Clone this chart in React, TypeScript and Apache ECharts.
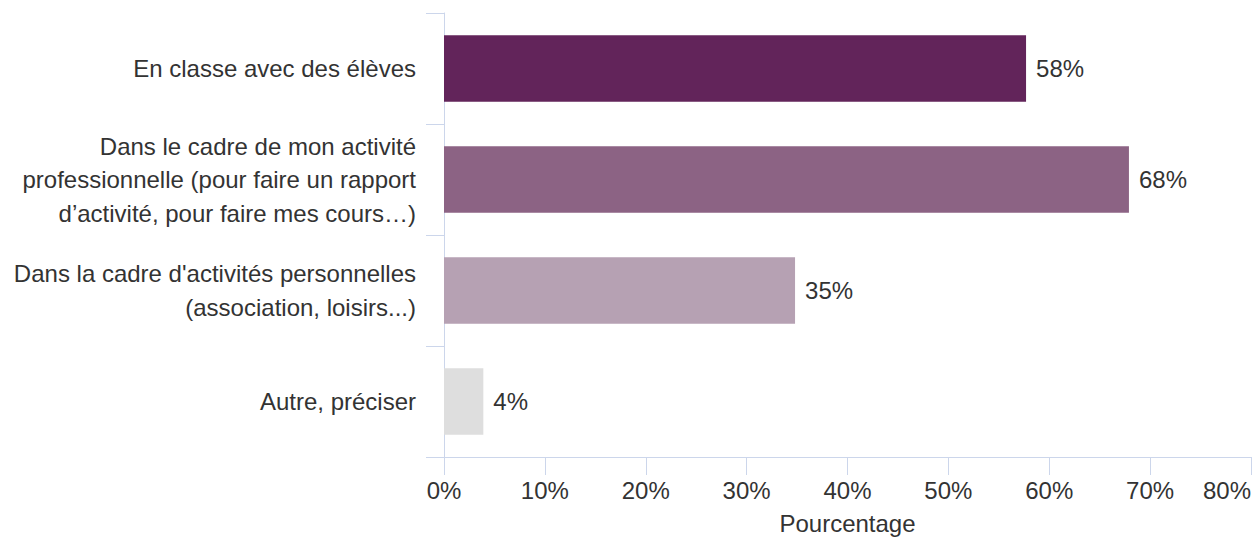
import React, { useEffect, useRef } from "react";
import * as echarts from "echarts";

const categories = [
  "En classe avec des élèves",
  "Dans le cadre de mon activité\nprofessionnelle (pour faire un rapport\nd’activité, pour faire mes cours…)",
  "Dans la cadre d'activités personnelles\n(association, loisirs...)",
  "Autre, préciser",
];
const values = [57.7, 67.9, 34.8, 3.9];
const barColors = ["#62245a", "#8c6384", "#b6a1b3", "#dedede"];
const xTicks = [0, 10, 20, 30, 40, 50, 60, 70, 80];
const axisName = "Pourcentage";

const FONT = "'Liberation Sans', Arial, sans-serif";
const AXIS_COLOR = "#ccd6eb";
const TEXT_COLOR = "#333333";
const FS = 24;

export default function App() {
  const ref = useRef<HTMLDivElement>(null);
  useEffect(() => {
    if (!ref.current) return;
    const chart = echarts.init(ref.current, undefined, { renderer: "svg", width: 1255, height: 538 });
    chart.setOption({
      animation: false,
      textStyle: { fontFamily: FONT },
      grid: {
        left: 444,
        right: 4,
        top: 13,
        bottom: 81,
        containLabel: false,
        outerBoundsMode: "none",
      },
      xAxis: {
        type: "value",
        min: xTicks[0],
        max: xTicks[xTicks.length - 1],
        interval: 10,
        name: axisName,
        nameLocation: "middle",
        nameGap: 54,
        nameTextStyle: { color: TEXT_COLOR, fontSize: FS, fontFamily: FONT },
        axisLine: { show: true, lineStyle: { color: AXIS_COLOR, width: 1 } },
        axisTick: { show: true, length: 18, lineStyle: { color: AXIS_COLOR } },
        splitLine: { show: false },
        axisLabel: {
          color: TEXT_COLOR,
          fontSize: FS,
          fontFamily: FONT,
          margin: 21,
          alignMaxLabel: "right",
          formatter: (v: number) => v + "%",
        },
      },
      yAxis: {
        type: "category",
        data: categories,
        inverse: true,
        axisLine: { show: true, lineStyle: { color: AXIS_COLOR, width: 1 } },
        axisTick: { show: true, length: 18, lineStyle: { color: AXIS_COLOR } },
        splitLine: { show: false },
        axisLabel: {
          color: TEXT_COLOR,
          fontSize: FS,
          fontFamily: FONT,
          margin: 28,
          lineHeight: 33.5,
          align: "right",
        },
      },
      series: [
        {
          type: "bar",
          data: values.map((v, i) => ({ value: v, itemStyle: { color: barColors[i] } })),
          barCategoryGap: "40%",
          label: {
            show: true,
            position: "right",
            distance: 10,
            color: TEXT_COLOR,
            fontSize: FS,
            fontFamily: FONT,
            formatter: (p: any) => Math.round(p.value) + "%",
          },
        },
      ],
    });
    return () => chart.dispose();
  }, []);
  return (
    <div
      ref={ref}
      style={{ position: "absolute", left: 0, top: 0, width: 1255, height: 538, overflow: "hidden" }}
    />
  );
}
